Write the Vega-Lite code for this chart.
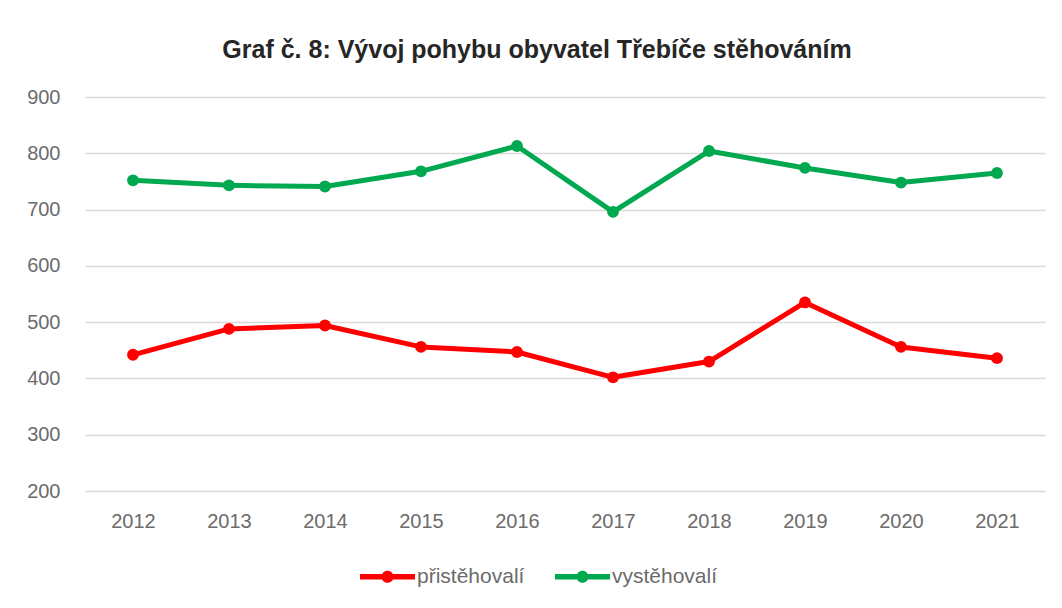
{
  "$schema": "https://vega.github.io/schema/vega-lite/v6.json",
  "autosize": {"type": "none"},
  "width": 960,
  "height": 394,
  "padding": {"left": 85, "top": 97, "right": 17, "bottom": 117},
  "background": "white",
  "config": {"view": {"stroke": null}},
  "title": {
    "text": "Graf č. 8: Vývoj pohybu obyvatel Třebíče stěhováním",
    "font": "Liberation Sans",
    "fontSize": 25,
    "fontWeight": "bold",
    "color": "#262626",
    "anchor": "middle",
    "dx": -28,
    "offset": 24
  },
  "data": {
    "values": [
      {"rok": "2012", "serie": "přistěhovalí", "pocet": 442},
      {"rok": "2013", "serie": "přistěhovalí", "pocet": 488},
      {"rok": "2014", "serie": "přistěhovalí", "pocet": 494},
      {"rok": "2015", "serie": "přistěhovalí", "pocet": 456},
      {"rok": "2016", "serie": "přistěhovalí", "pocet": 447},
      {"rok": "2017", "serie": "přistěhovalí", "pocet": 402},
      {"rok": "2018", "serie": "přistěhovalí", "pocet": 430},
      {"rok": "2019", "serie": "přistěhovalí", "pocet": 535},
      {"rok": "2020", "serie": "přistěhovalí", "pocet": 456},
      {"rok": "2021", "serie": "přistěhovalí", "pocet": 436},
      {"rok": "2012", "serie": "vystěhovalí", "pocet": 752},
      {"rok": "2013", "serie": "vystěhovalí", "pocet": 743},
      {"rok": "2014", "serie": "vystěhovalí", "pocet": 741},
      {"rok": "2015", "serie": "vystěhovalí", "pocet": 768},
      {"rok": "2016", "serie": "vystěhovalí", "pocet": 813},
      {"rok": "2017", "serie": "vystěhovalí", "pocet": 696},
      {"rok": "2018", "serie": "vystěhovalí", "pocet": 804},
      {"rok": "2019", "serie": "vystěhovalí", "pocet": 774},
      {"rok": "2020", "serie": "vystěhovalí", "pocet": 748},
      {"rok": "2021", "serie": "vystěhovalí", "pocet": 765}
    ]
  },
  "encoding": {
    "x": {
      "field": "rok",
      "type": "ordinal",
      "title": null,
      "scale": {"type": "point", "padding": 0.5},
      "axis": {
        "domain": false,
        "ticks": false,
        "grid": false,
        "labelAngle": 0,
        "labelFont": "Liberation Sans",
        "labelFontSize": 20,
        "labelColor": "#6b6b6b",
        "labelPadding": 20
      }
    },
    "y": {
      "field": "pocet",
      "type": "quantitative",
      "title": null,
      "scale": {"domain": [200, 900], "nice": false, "zero": false},
      "axis": {
        "values": [200, 300, 400, 500, 600, 700, 800, 900],
        "domain": false,
        "ticks": false,
        "grid": true,
        "gridColor": "#d9d9d9",
        "gridWidth": 1.5,
        "labelFont": "Liberation Sans",
        "labelFontSize": 20,
        "labelColor": "#6b6b6b",
        "labelPadding": 25
      }
    },
    "color": {
      "field": "serie",
      "type": "nominal",
      "scale": {"domain": ["přistěhovalí", "vystěhovalí"], "range": ["#ff0000", "#00a84f"]},
      "legend": {
        "title": null,
        "orient": "none",
        "direction": "horizontal",
        "legendX": 275,
        "legendY": 452,
        "symbolType": "M -1 -0.1 L 1 -0.1 L 1 0.1 L -1 0.1 Z M 0.22 0 A 0.22 0.22 0 1 1 -0.22 0 A 0.22 0.22 0 1 1 0.22 0 Z",
        "symbolSize": 3025,
        "symbolStrokeWidth": 0,
        "labelFont": "Liberation Sans",
        "labelFontSize": 21,
        "labelColor": "#6b6b6b",
        "labelOffset": 2,
        "columnPadding": 30
      }
    }
  },
  "layer": [
    {"mark": {"type": "line", "strokeWidth": 5, "strokeJoin": "round"}},
    {"mark": {"type": "point", "filled": true, "size": 140, "opacity": 1}}
  ]
}
